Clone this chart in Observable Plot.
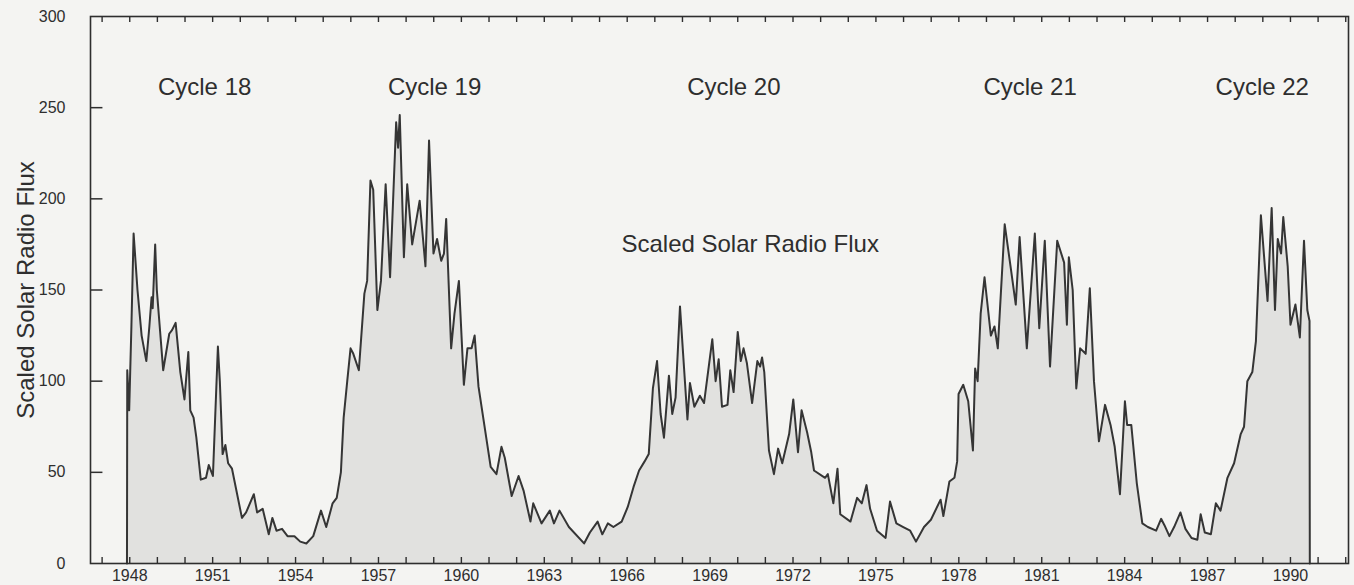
<!DOCTYPE html>
<html>
<head>
<meta charset="utf-8">
<script src="https://cdn.jsdelivr.net/npm/d3@7"></script>
<script src="https://cdn.jsdelivr.net/npm/@observablehq/plot@0.6"></script>
<style>
  html, body { margin: 0; padding: 0; background: #f4f4f2; }
</style>
</head>
<body>
<div id="chart"></div>
<script>
// Decimal year of each reading
const years = [
  1947.90,1947.91,1947.98,1948.06,1948.14,1948.28,1948.43,1948.60,1948.71,1948.79,1948.83,1948.92,1948.98,
  1949.21,1949.43,1949.53,1949.66,1949.83,1949.98,1950.12,1950.19,1950.31,1950.41,1950.57,1950.76,1950.86,
  1951.01,1951.19,1951.26,1951.36,1951.46,1951.56,1951.70,1952.06,1952.21,1952.49,1952.61,1952.81,1953.03,
  1953.16,1953.31,1953.51,1953.71,1953.96,1954.17,1954.39,1954.64,1954.92,1955.11,1955.34,1955.49,1955.64,
  1955.74,1955.87,1955.99,1956.09,1956.29,1956.49,1956.59,1956.71,1956.81,1956.96,1957.09,1957.26,1957.42,
  1957.64,1957.71,1957.77,1957.92,1958.04,1958.22,1958.49,1958.70,1958.83,1958.99,1959.12,1959.27,1959.37,
  1959.45,1959.63,1959.75,1959.91,1960.09,1960.22,1960.37,1960.48,1960.62,1961.06,1961.27,1961.45,1961.57,
  1961.82,1962.07,1962.25,1962.50,1962.60,1962.90,1963.20,1963.35,1963.55,1963.89,1964.44,1964.65,1964.93,
  1965.10,1965.30,1965.50,1965.80,1966.02,1966.23,1966.43,1966.63,1966.78,1966.93,1967.08,1967.21,1967.33,
  1967.51,1967.63,1967.75,1967.91,1968.18,1968.27,1968.43,1968.63,1968.78,1969.08,1969.20,1969.31,1969.43,
  1969.63,1969.73,1969.85,1970.00,1970.11,1970.21,1970.33,1970.52,1970.71,1970.81,1970.88,1970.96,1971.13,
  1971.31,1971.46,1971.61,1971.86,1972.01,1972.18,1972.31,1972.51,1972.66,1972.76,1973.16,1973.26,1973.46,
  1973.61,1973.71,1974.08,1974.32,1974.49,1974.66,1974.79,1975.04,1975.35,1975.51,1975.74,1975.99,1976.24,
  1976.45,1976.74,1976.99,1977.34,1977.44,1977.66,1977.84,1977.94,1977.99,1978.16,1978.34,1978.51,1978.59,
  1978.68,1978.79,1978.93,1979.16,1979.29,1979.41,1979.66,1979.88,1980.06,1980.20,1980.46,1980.75,1980.91,
  1981.11,1981.30,1981.56,1981.81,1981.91,1981.98,1982.12,1982.25,1982.39,1982.59,1982.74,1982.89,1983.07,
  1983.29,1983.49,1983.64,1983.83,1984.01,1984.09,1984.24,1984.44,1984.64,1984.84,1985.14,1985.32,1985.44,
  1985.62,1985.79,1986.02,1986.20,1986.42,1986.63,1986.75,1986.90,1987.12,1987.30,1987.47,1987.72,1987.96,
  1988.20,1988.32,1988.44,1988.62,1988.75,1988.93,1989.17,1989.32,1989.44,1989.54,1989.66,1989.74,1989.90,
  1990.00,1990.18,1990.34,1990.49,1990.61,1990.69,1990.70
];
// Scaled solar radio flux at each reading
const flux = [
  0,106,84,130,181,150,125,111,130,146,140,175,150,
  106,126,128,132,105,90,116,84,80,69,46,47,54,
  48,119,100,60,65,55,52,25,28,38,28,30,16,
  25,18,19,15,15,12,11,15,29,20,33,36,50,
  80,100,118,115,106,148,155,210,205,139,155,208,157,
  242,228,246,168,208,175,199,163,232,170,178,166,170,
  189,118,137,155,98,118,118,125,97,53,49,64,58,
  37,48,40,23,33,22,29,22,29,20,11,17,23,
  16,22,20,23,31,42,51,56,60,96,111,82,69,
  103,82,91,141,79,99,86,92,88,123,100,112,86,
  87,106,94,127,111,118,110,88,111,108,113,105,62,
  49,63,55,71,90,61,84,72,61,51,47,49,33,
  52,27,23,36,33,43,30,18,14,34,22,20,18,
  12,20,24,35,26,45,47,56,93,98,89,62,107,
  100,137,157,125,130,118,186,162,142,179,118,181,129,
  177,108,177,165,131,168,150,96,118,115,151,100,67,
  87,76,64,38,89,76,76,44,22,20,18,24.5,21,
  15,20,28,19,14,13,27,17,16,33,29,47,55,
  71,75,100,105,122,191,144,195,139,178,170,190,163,
  131,142,124,177,139,133,0
];

const xDomain = [1946.58, 1992.10];
const yDomain = [0, 300];
const xTickYears = [1948,1951,1954,1957,1960,1963,1966,1969,1972,1975,1978,1981,1984,1987,1990];
const minorYears = [1947,1948,1949,1950,1951,1952,1953,1954,1955,1956,1957,1958,1959,1960,1961,1962,1963,
  1964,1965,1966,1967,1968,1969,1970,1971,1972,1973,1974,1975,1976,1977,1978,1979,1980,1981,1982,1983,
  1984,1985,1986,1987,1988,1989,1990,1991,1992];
const yTickValues = [0,50,100,150,200,250,300];
const yInnerTicks = [50,100,150,200,250];

const cycleNames = ["Cycle 18","Cycle 19","Cycle 20","Cycle 21","Cycle 22"];
const cycleYears = [1950.71,1959.03,1969.86,1980.58,1988.98];
const cycleLevel = [261,261,261,261,261];

const seriesLabel = ["Scaled Solar Radio Flux"];
const seriesLabelYear = [1970.45];
const seriesLabelLevel = [175];
const yAxisTitle = "Scaled Solar Radio Flux";

const data = years.map((y, i) => ({year: y, flux: flux[i]}));
const cycles = cycleNames.map((n, i) => ({name: n, year: cycleYears[i], level: cycleLevel[i]}));
const midLabel = seriesLabel.map((n, i) => ({name: n, year: seriesLabelYear[i], level: seriesLabelLevel[i]}));

const ink = "#2e2e2e";
const font = "'Liberation Sans', Arial, Helvetica, sans-serif";

// tick lengths expressed in data units of the scales (≈12px horizontally, ≈6px vertically)
const yTickLen = 0.45;
const xTickLen = 3.3;

const chart = Plot.plot({
  width: 1354,
  height: 585,
  marginLeft: 90,
  marginRight: 6,
  marginTop: 16,
  marginBottom: 22,
  style: {background: "#f4f4f2", color: ink, fontFamily: font},
  x: {domain: xDomain},
  y: {domain: yDomain},
  marks: [
    Plot.areaY(data, {x: "year", y: "flux", fill: "#e1e1df"}),
    Plot.lineY(data, {x: "year", y: "flux", stroke: "#353535", strokeWidth: 2, strokeLinejoin: "round"}),
    // inward ticks
    Plot.ruleX(minorYears, {x: d => d, y1: yDomain[0], y2: yDomain[0] + xTickLen, stroke: ink, strokeWidth: 1.4}),
    Plot.ruleX(minorYears, {x: d => d, y1: yDomain[1], y2: yDomain[1] - xTickLen, stroke: ink, strokeWidth: 1.4}),
    Plot.ruleY(yInnerTicks, {y: d => d, x1: xDomain[0], x2: xDomain[0] + yTickLen, stroke: ink, strokeWidth: 1.5}),
    Plot.frame({stroke: ink, strokeWidth: 1.6}),
    // tick labels
    Plot.axisX({anchor: "bottom", ticks: xTickYears, tickSize: 0, tickPadding: 6, fontSize: 16, tickFormat: d => String(d), label: null}),
    Plot.axisY({anchor: "left", ticks: yTickValues, tickSize: 0, tickPadding: 25, fontSize: 16, tickFormat: d => String(d), label: null}),
    // annotations
    Plot.text(cycles, {x: "year", y: "level", text: "name", fontSize: 24, fill: ink}),
    Plot.text(midLabel, {x: "year", y: "level", text: "name", fontSize: 24, fill: ink}),
    Plot.text([yAxisTitle], {frameAnchor: "left", textAnchor: "middle", dx: -64, rotate: -90, fontSize: 24, fill: ink})
  ]
});

document.getElementById("chart").appendChild(chart);
</script>
</body>
</html>
